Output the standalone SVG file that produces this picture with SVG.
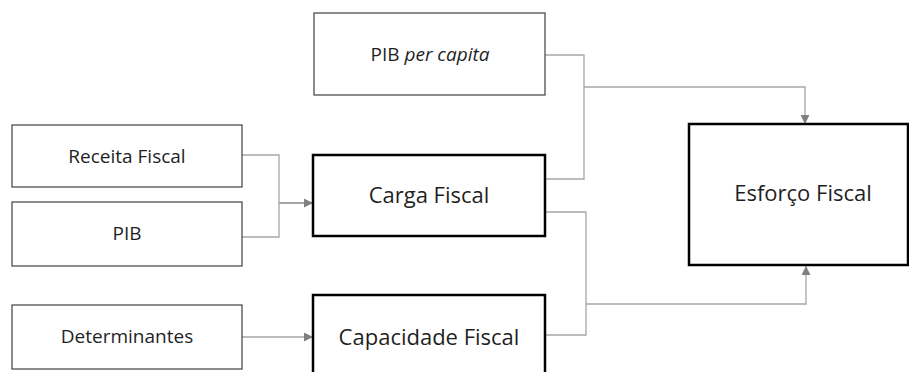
<svg xmlns="http://www.w3.org/2000/svg" width="909" height="372" viewBox="0 0 909 372">
<style>
.thin{fill:#fff;stroke:#404040;stroke-width:1.2}
.thick{fill:#fff;stroke:#000;stroke-width:2.5}
.t{font-family:"Open Sans","Liberation Sans",sans-serif;fill:#1f1f1f;text-anchor:middle}
.s{font-size:19px}
.b{font-size:22px}
.c{fill:none;stroke:#a6a6a6;stroke-width:1.3}
</style>
<defs>
<marker id="ah" viewBox="0 0 10 10" refX="10" refY="5" markerWidth="9" markerHeight="9" markerUnits="userSpaceOnUse" orient="auto">
<path d="M0,0 L10,5 L0,10 z" fill="#808080"/>
</marker>
</defs>
<g id="connectors">
<path class="c" d="M242,155 H279 V237 H242"/>
<path class="c" d="M279,203 H313" marker-end="url(#ah)" style="stroke-width:2"/>
<path class="c" d="M242,337 H313" marker-end="url(#ah)"/>
<path class="c" d="M545,55 H584 V179 H545"/>
<path class="c" d="M584,87 H805 V124" marker-end="url(#ah)"/>
<path class="c" d="M545,212 H586 V335 H545"/>
<path class="c" d="M586,304 H806 V266" marker-end="url(#ah)"/>
</g>
<g id="receita"><rect class="thin" x="12" y="125" width="230" height="62"/><text class="t s" x="127" y="163">Receita Fiscal</text></g>
<g id="pib"><rect class="thin" x="12" y="202" width="230" height="64"/><text class="t s" x="127" y="240">PIB</text></g>
<g id="determinantes"><rect class="thin" x="12" y="305" width="230" height="64"/><text class="t s" x="127" y="343">Determinantes</text></g>
<g id="pibpc"><rect class="thin" x="314" y="13" width="231" height="82"/><text class="t s" x="430" y="61">PIB <tspan font-style="italic">per capita</tspan></text></g>
<g id="carga"><rect class="thick" x="313" y="155" width="232" height="81"/><text class="t b" x="429" y="203">Carga Fiscal</text></g>
<g id="capacidade"><rect class="thick" x="313" y="295" width="232" height="82"/><text class="t b" x="429" y="345">Capacidade Fiscal</text></g>
<g id="esforco"><rect class="thick" x="689" y="124" width="219" height="141"/><text class="t b" x="803" y="201">Esforço Fiscal</text></g>
</svg>
